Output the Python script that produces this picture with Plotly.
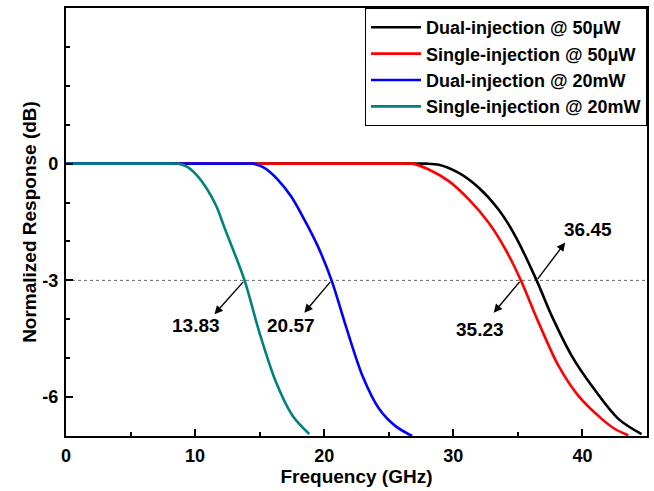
import plotly.graph_objects as go

# ---- data ----
dual50_x = [0, 27.4, 27.9, 28.88, 30.42, 31.97, 33.5, 34.8, 36.45, 37.63, 39.17, 40.72, 42.78, 44.58]
dual50_y = [0, 0, 0, -0.03, -0.24, -0.62, -1.18, -1.86, -3.0, -3.92, -4.94, -5.71, -6.56, -6.95]

single50_x = [0, 26.2, 26.8, 28.1, 29.65, 31.2, 32.74, 34.03, 35.23, 36.6, 38.15, 39.69, 41.49, 42.52, 43.55]
single50_y = [0, 0, 0, -0.15, -0.45, -0.92, -1.52, -2.2, -3.0, -4.08, -5.2, -5.97, -6.56, -6.82, -6.98]

dual20_x = [0, 14.0, 14.46, 15.37, 16.4, 17.43, 18.46, 19.5, 20.57, 21.67, 22.96, 24.25, 25.5, 26.8]
dual20_y = [0, 0, 0, -0.11, -0.41, -0.84, -1.44, -2.12, -3.0, -4.17, -5.45, -6.3, -6.74, -7.0]

single20_x = [0, 8.2, 8.67, 9.32, 10.09, 10.86, 11.64, 12.28, 13.83, 14.98, 16.27, 17.55, 18.84]
single20_y = [0, 0, 0, -0.07, -0.28, -0.62, -1.09, -1.65, -3.0, -4.34, -5.62, -6.48, -6.95]

series_names = ["Dual-injection @ 50\u03bcW", "Single-injection @ 50\u03bcW",
                "Dual-injection @ 20mW", "Single-injection @ 20mW"]
series_colors = ["#000000", "#ff0000", "#0000ff", "#008080"]

cutoff_freqs = [13.83, 20.57, 35.23, 36.45]   # -3 dB bandwidths (GHz)
cutoff_level = -3

x_tickvals = [0, 10, 20, 30, 40]
y_tickvals = [-6, -3, 0]
y_ticktext = ["-6", "-3", "0"]

FONT = "Liberation Sans, Arial, sans-serif"

fig = go.Figure()
xs = [dual50_x, single50_x, dual20_x, single20_x]
ys = [dual50_y, single50_y, dual20_y, single20_y]
for i, (x, y, n, c) in enumerate(zip(xs, ys, series_names, series_colors)):
    fig.add_trace(go.Scatter(x=x, y=y, mode="lines", name=n,
                             legendgroup=f"g{i}",
                             line=dict(color=c, width=2.6, shape="spline", smoothing=0.9)))

# -3 dB reference line
fig.add_shape(type="line", xref="x", yref="y", x0=0, x1=45, y0=cutoff_level, y1=cutoff_level,
              line=dict(color="#666666", width=1, dash="3px,3px"), layer="below")

# arrows + labels: (head dx, head dy, label dx, label dy) relative to crossing
offsets = [(-2.33, -0.87, -3.74, -1.17),
           (-2.11, -0.83, -3.14, -1.17),
           (-2.10, -0.83, -3.13, -1.26),
           (2.21, 0.97, 4.01, 1.31)]
for f, (hdx, hdy, ldx, ldy) in zip(cutoff_freqs, offsets):
    fig.add_annotation(x=f + hdx, y=cutoff_level + hdy, ax=f, ay=cutoff_level,
                       xref="x", yref="y", axref="x", ayref="y", text="",
                       showarrow=True, arrowhead=2, arrowsize=1.2, arrowwidth=1.4,
                       arrowcolor="#000000")
    fig.add_annotation(x=f + ldx, y=cutoff_level + ldy, xref="x", yref="y",
                       text=f"{f:.2f}", showarrow=False,
                       font=dict(family=FONT, size=19, color="#000000", weight="bold"))

axis_common = dict(showline=True, linecolor="#000000", linewidth=2.2, mirror=True,
                   showgrid=False, zeroline=False, ticks="inside", tickcolor="#000000",
                   tickwidth=2, ticklen=7, automargin=False,
                   tickfont=dict(family=FONT, size=18, color="#000000", weight="bold"))

fig.update_layout(
    width=654, height=491,
    margin=dict(l=66, r=7, t=8, b=55),
    paper_bgcolor="white", plot_bgcolor="white",
    font=dict(family=FONT, color="#000000"),
    xaxis=dict(range=[0, 45], tickvals=x_tickvals, ticklabelstandoff=2,
               minor=dict(dtick=5, tick0=0, ticks="inside", ticklen=4, tickwidth=2, tickcolor="#000000"),
               title=dict(text="<b>Frequency (GHz)</b>", standoff=0,
                          font=dict(family=FONT, size=19, color="#000000")),
               **axis_common),
    yaxis=dict(range=[-7, 4], tickvals=y_tickvals, ticktext=y_ticktext, ticklabelstandoff=2,
               minor=dict(dtick=1, tick0=0, ticks="inside", ticklen=4, tickwidth=2, tickcolor="#000000"),
               title=dict(text="<b>Normalized Response (dB)</b>", standoff=1,
                          font=dict(family=FONT, size=19, color="#000000")),
               **axis_common),
    legend=dict(x=1, y=1, xanchor="right", yanchor="top",
                bgcolor="white", bordercolor="#000000", borderwidth=1,
                traceorder="grouped", tracegroupgap=0, itemwidth=50,
                font=dict(family=FONT, size=18, color="#000000", weight="bold")),
    showlegend=True,
)

fig.write_html("out.html", config={"displayModeBar": False},
               post_script="document.body.style.margin='0';document.body.style.padding='0';")
